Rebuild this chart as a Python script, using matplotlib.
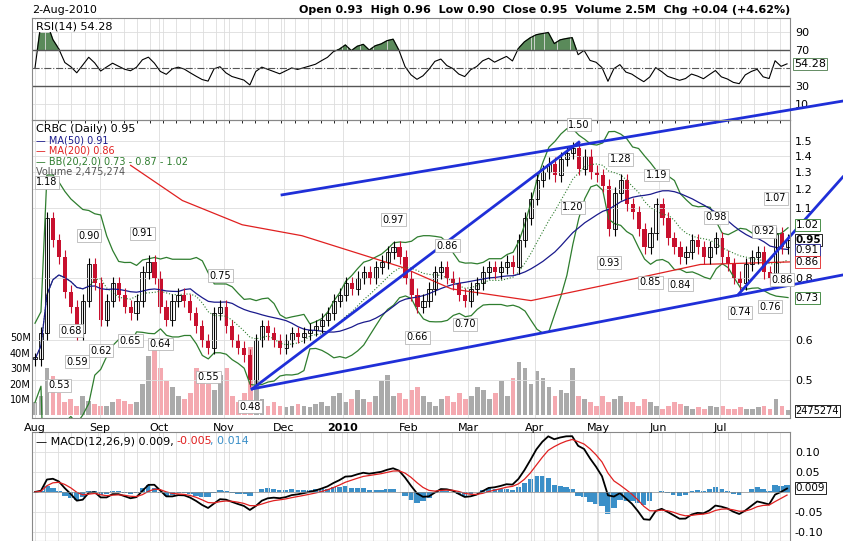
import matplotlib
matplotlib.use("Agg")
import matplotlib.pyplot as plt
import numpy as np
import pandas as pd

closes = [0.55,0.62,1.05,0.95,0.88,0.75,0.70,0.62,0.72,0.85,0.78,0.66,0.72,0.78,0.74,0.70,0.68,0.72,0.82,0.86,
          0.80,0.70,0.66,0.72,0.74,0.72,0.68,0.64,0.60,0.58,0.68,0.70,0.64,0.60,0.58,0.56,0.50,0.60,0.64,0.62,
          0.60,0.58,0.60,0.62,0.61,0.62,0.63,0.64,0.66,0.68,0.72,0.74,0.78,0.76,0.80,0.82,0.80,0.84,0.86,0.90,
          0.92,0.88,0.80,0.74,0.70,0.72,0.76,0.82,0.84,0.80,0.78,0.74,0.72,0.76,0.78,0.82,0.84,0.82,0.84,0.86,
          0.84,0.95,1.05,1.15,1.25,1.30,1.35,1.28,1.38,1.42,1.45,1.32,1.40,1.30,1.28,1.22,1.00,1.18,1.25,1.12,
          1.08,1.00,0.92,0.98,1.12,1.05,0.96,0.92,0.88,0.90,0.95,0.92,0.88,0.92,0.96,0.88,0.85,0.80,0.78,0.85,
          0.88,0.90,0.82,0.80,0.98,0.92,0.95]
volumes = [8,12,30,25,14,8,10,6,12,9,7,6,6,8,10,9,7,8,20,38,
           42,30,22,18,12,10,14,30,28,20,16,26,30,12,8,14,44,22,10,6,
           8,6,5,6,7,6,5,7,8,6,12,14,8,10,16,10,8,12,22,26,
           12,14,10,16,18,12,8,6,10,12,8,14,10,12,18,16,10,14,22,12,
           24,34,30,20,28,24,18,12,16,14,30,12,10,8,6,12,8,10,12,8,
           8,6,10,8,6,4,6,8,7,6,4,5,4,6,5,6,4,4,5,4,
           4,5,6,4,10,6,3]
month_labels = ["Aug","Sep","Oct","Nov","Dec","2010","Feb","Mar","Apr","May","Jun","Jul","Aug"]
month_px = [32,97,157,222,282,341,407,467,534,598,658,720,791]
ma200_px = [128,180,240,300,400,450,530,600,700,790]
ma200_val = [1.34,1.14,1.02,0.97,0.84,0.76,0.72,0.77,0.85,0.86]
price_ticks = [0.5,0.6,0.8,1.1,1.2,1.3,1.4,1.5]
peak_labels = [(2,"1.18",1.18,True),(7,"0.59",0.59,False),(4,"0.53",0.53,False),(6,"0.68",0.68,False),
               (9,"0.90",0.90,True),(11,"0.62",0.62,False),(16,"0.65",0.65,False),(18,"0.91",0.91,True),
               (21,"0.64",0.64,False),(29,"0.55",0.55,False),(31,"0.75",0.75,True),(36,"0.48",0.48,False),
               (60,"0.97",0.97,True),(64,"0.66",0.66,False),(69,"0.86",0.86,True),(72,"0.70",0.70,False),
               (91,"1.50",1.50,True),(90,"1.20",1.20,False),(98,"1.28",1.28,True),(96,"0.93",0.93,False),
               (104,"1.19",1.19,True),(103,"0.85",0.85,False),(108,"0.84",0.84,False),(114,"0.98",0.98,True),
               (118,"0.74",0.74,False),(122,"0.92",0.92,True),(123,"0.76",0.76,False),(124,"1.07",1.07,True),
               (125,"0.86",0.86,False)]

W, H = 843, 541
fig = plt.figure(figsize=(W/100, H/100), dpi=100)
def ax_at(l, t, r, b):
    return fig.add_axes([l/W, 1-b/H, (r-l)/W, (b-t)/H])
px = lambda p: (p-32)/6.0
n = len(closes)
x = np.arange(n)
c = np.array(closes); o = np.r_[c[0], c[:-1]]
hi = np.maximum(o, c)*1.03; lo = np.minimum(o, c)*0.97
s = pd.Series(c)

def style(ax):
    ax.set_facecolor("white")
    ax.tick_params(axis="both", length=0, labelsize=8)
    ax.set_xlim(-0.5, px(790))
    ax.set_xticks([px(p) for p in month_px])
    ax.set_xticks(np.arange(-0.5, n, 2.2), minor=True)
    ax.grid(True, which="both", axis="x", color="#dddddd", lw=0.6)
    ax.grid(True, axis="y", color="#dddddd", lw=0.6)
    for sp in ax.spines.values(): sp.set_color("#888888"); sp.set_lw(0.8)

# RSI
ax1 = ax_at(32, 18, 790, 120)
style(ax1)
d = s.diff(); up = d.clip(lower=0).ewm(alpha=1/9).mean(); dn = (-d.clip(upper=0)).ewm(alpha=1/9).mean()
rsi = (100 - 100/(1+up/dn)).fillna(50)
ax1.plot(x, rsi, color="black", lw=0.8)
ax1.fill_between(x, rsi, 70, where=rsi > 70, color="#5a8a5a", interpolate=True)
for v in (70, 30): ax1.axhline(v, color="#555555", lw=1)
ax1.axhline(50, color="#555555", lw=0.8, ls="-.")
ax1.set_ylim(-7.8, 105.5); ax1.set_yticks([90,70,30,10]); ax1.set_xticklabels([])
ax1.yaxis.tick_right()
ax1.text(0.005, 0.97, "RSI(14) 54.28", transform=ax1.transAxes, va="top", fontsize=8,
         bbox=dict(fc="white", ec="none", pad=0.5))
ax1.text(1.005, (54.28+7.8)/113.3, "54.28", transform=ax1.transAxes, va="center", fontsize=8,
         bbox=dict(boxstyle="square,pad=0.1", fc="white", ec="#4a7a4a", lw=0.6))
fig.text(32/W, 1-10/H, "2-Aug-2010", fontsize=8, va="center")
fig.text(790/W, 1-10/H, "Open 0.93  High 0.96  Low 0.90  Close 0.95  Volume 2.5M  Chg +0.04 (+4.62%)",
         fontsize=8, va="center", ha="right", fontweight="bold")

# Price
ax2 = ax_at(32, 120, 790, 418)
style(ax2)
axv = ax2.twinx()
ax2.set_yscale("log"); ax2.set_ylim(0.42, 1.65)
ax2.set_yticks(price_ticks); ax2.set_yticklabels([f"{t:.1f}" for t in price_ticks])
ax2.minorticks_off()
ax2.yaxis.set_ticks_position("right")
ax2.tick_params(axis="y", length=0, labelsize=8, labelleft=False, labelright=True)
ax2.set_xticks([px(p) for p in month_px]); ax2.set_xticklabels(month_labels)
for t in ax2.get_xticklabels():
    if t.get_text() == "2010": t.set_fontweight("bold")
axv.set_ylim(-2, 190); axv.set_yticks([10,20,30,40,50]); axv.set_yticklabels(["10M","20M","30M","40M","50M"])
axv.tick_params(length=0, labelsize=7, pad=1, labelleft=True, labelright=False)
axv.set_xlim(-0.5, px(790))
for sp in axv.spines.values(): sp.set_visible(False)
vcol = ["#f4a9b0" if c[i] < o[i] else "#aaaaaa" for i in range(n)]
axv.bar(x, volumes, width=0.8, color=vcol, zorder=1)
ax2.set_zorder(axv.get_zorder()+1); ax2.patch.set_visible(False)
ma50 = s.rolling(25, min_periods=1).mean(); sd = s.rolling(10, min_periods=2).std().bfill()
bm = s.rolling(10, min_periods=1).mean()
ax2.plot(x, bm+2*sd, color="#2e7d2e", lw=0.9); ax2.plot(x, bm-2*sd, color="#2e7d2e", lw=0.9)
ax2.plot(x, bm, color="#2e7d2e", lw=0.8, ls=":")
ax2.plot(x, ma50, color="#1a1a8c", lw=0.9)
ax2.plot([px(p) for p in ma200_px], ma200_val, color="#e02020", lw=0.9)
for i in range(n):
    col = "#c8102e" if c[i] < o[i] else "black"
    ax2.vlines(i, lo[i], hi[i], color=col, lw=0.8)
    if c[i] >= o[i]:
        ax2.bar(i, c[i]-o[i] or 0.005, bottom=o[i], width=0.7, color="white", edgecolor="black", lw=0.6)
    else:
        ax2.bar(i, o[i]-c[i], bottom=c[i], width=0.7, color=col, lw=0)
for (i, t, v, top) in peak_labels:
    dy = (3 if i == 2 else 7) if top else -8
    ax2.annotate(t, (i, v*(1.03 if top else 0.97)), xytext=(0, dy), textcoords="offset points",
                 ha="center", va="center", fontsize=7,
                 bbox=dict(boxstyle="square,pad=0.15", fc="white", ec="#aaaaaa", lw=0.5))
blue = dict(color="#1f2fd8", lw=2, clip_on=False)
ax2.plot([px(280), px(843)], [1.17, 1.80], **blue)
ax2.plot([px(250), px(843)], [0.48, 0.81], **blue)
ax2.plot([px(250), px(578)], [0.48, 1.49], **blue)
ax2.plot([px(738), px(843)], [0.74, 1.27], **blue)
leg = [("CRBC (Daily) 0.95","black"),("MA(50) 0.91","#1a1a8c"),("MA(200) 0.86","#e02020"),
       ("BB(20,2.0) 0.73 - 0.87 - 1.02","#2e7d2e"),("Volume 2,475,274","#555555")]
for k, (t, col) in enumerate(leg):
    ax2.text(0.005, 0.985-k*0.036, ("— " if k in (1,2,3) else "") + t, transform=ax2.transAxes,
             va="top", fontsize=7 if k else 8, color=col)
for v, t, ec in [(1.02,"1.02","#2e7d2e"),(0.95,"0.95","black"),(0.91,"0.91","#1a1a8c"),(0.86,"0.86","#e02020"),(0.73,"0.73","#2e7d2e")]:
    ax2.annotate(t, (1.0, v), xycoords=("axes fraction","data"), xytext=(4, 0), textcoords="offset points",
                 va="center", fontsize=7.5, fontweight="bold" if t=="0.95" else "normal",
                 bbox=dict(boxstyle="square,pad=0.1", fc="white", ec=ec, lw=0.6))
axv.annotate("2475274", (1.0, 2.5), xycoords=("axes fraction","data"), xytext=(4, 0), textcoords="offset points",
             va="center", fontsize=7, bbox=dict(boxstyle="square,pad=0.1", fc="white", ec="black", lw=0.6))

# MACD
ax3 = ax_at(32, 432, 790, 541)
style(ax3); ax3.set_xticklabels([]); ax3.yaxis.tick_right()
macd = s.ewm(span=6).mean() - s.ewm(span=13).mean()
sig = macd.ewm(span=5).mean(); hist = macd - sig
ax3.bar(x, hist, width=0.9, color="#3a8fc8")
ax3.plot(x, macd, color="black", lw=1.3); ax3.plot(x, sig, color="#e02020", lw=0.9)
ax3.axhline(0, color="#888888", lw=0.5)
ax3.set_ylim(-0.1225, 0.15); ax3.set_yticks([0.10,0.05,-0.05,-0.10]); ax3.set_yticklabels(["0.10","0.05","-0.05","-0.10"])
ax3.text(0.005, 0.96, "— MACD(12,26,9) 0.009, ", transform=ax3.transAxes, va="top", fontsize=8)
ax3.text(0.19, 0.96, "-0.005", transform=ax3.transAxes, va="top", fontsize=8, color="#e02020")
ax3.text(0.235, 0.96, ", 0.014", transform=ax3.transAxes, va="top", fontsize=8, color="#3a8fc8")
ax3.annotate("0.009", (1.0, 0.009), xycoords=("axes fraction","data"), xytext=(4, 0), textcoords="offset points",
             va="center", fontsize=7.5, bbox=dict(boxstyle="square,pad=0.1", fc="white", ec="black", lw=0.6))

fig.savefig("out.png", dpi=100)
